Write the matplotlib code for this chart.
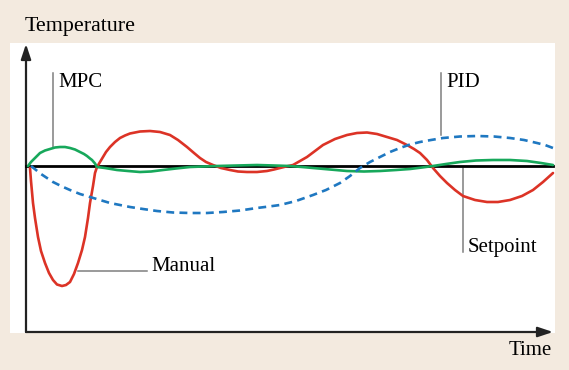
import matplotlib.pyplot as plt
import numpy as np

plt.rcParams['font.family'] = ['Liberation Serif', 'DejaVu Serif']

# time (arbitrary units) and temperature deviation from setpoint
manual_t = [4, 5, 7, 9, 12, 15, 19, 23, 27, 31, 36, 40, 44, 48, 52, 56, 59, 62, 64, 67, 69, 71,
            74, 77, 80, 84, 89, 94, 99, 104, 114, 124, 134, 144, 152, 161, 168, 174, 180, 187,
            195, 204, 212, 221, 231, 241, 248, 254, 260, 267, 274, 281, 289, 297, 309, 321,
            331, 341, 351, 361, 371, 381, 388, 394, 401, 407, 414, 421, 429, 437, 449, 461,
            472, 484, 496, 507, 517, 527]
manual_T = [-2, -15, -37, -52, -71, -85, -97, -107, -114, -118.5, -120, -119, -116, -108, -97,
            -84, -71, -52, -37, -20, -7, -1, 4, 9, 14, 19, 24, 28, 30.5, 32.5, 34.5, 35, 34,
            31, 26, 19, 13, 8, 4, 1, -2, -4, -5.5, -6, -6, -5, -3.5, -2, -0.5, 1, 5, 9, 15,
            21, 27, 31, 33, 33.5, 32, 29, 26, 21, 17, 13, 6, -2, -10, -17, -24, -30, -34,
            -36, -36, -34, -30, -24, -16, -7]

mpc_t = [2, 5, 9, 14, 19, 24, 29, 34, 39, 44, 49, 54, 58, 61, 64, 66, 69, 71, 75, 79, 85, 91,
         102, 114, 125, 137, 150, 164, 177, 191, 211, 231, 248, 264, 276, 287, 304, 321, 338,
         354, 370, 384, 396, 407, 420, 434, 450, 467, 484, 501, 515, 527]
mpc_T = [0, 4, 8, 13, 15.5, 17, 18.5, 19, 19, 18, 16.5, 14, 12, 10, 7.5, 6, 2.5, -1, -1.5, -2,
         -3, -4, -5, -6, -5.5, -4, -2.5, -1, -0.5, 0, 0.5, 1, 0.5, 0, -1, -2, -3.5, -5, -5.5,
         -5, -4, -3, -1.5, 0, 2, 4, 5.5, 6, 6, 5, 3, 1]

pid_t = [5, 15, 27, 35, 44, 54, 64, 74, 84, 94, 104, 117, 131, 147, 164, 181, 197, 214, 231,
         243, 254, 270, 287, 300, 314, 324, 334, 344, 354, 364, 374, 384, 394, 405, 417, 434,
         451, 468, 484, 498, 511, 519, 527]
pid_T = [0, -8, -16, -20, -24, -28, -31, -34, -37, -39, -41, -43, -45, -46.5, -47, -47, -46,
         -44.5, -42, -40.5, -39, -35, -29, -24, -17, -10, -2, 4, 9, 14, 18, 21.5, 24, 26, 28,
         29.5, 30, 29.5, 28, 26, 23, 21, 18]

bg = '#f3eadf'
fig = plt.figure(figsize=(5.69, 3.70), dpi=100, facecolor=bg)
ax = fig.add_axes([10/569, 37/370, 545/569, 290/370])
ax.set_facecolor('white')
for s in ax.spines.values():
    s.set_visible(False)
ax.set_xticks([])
ax.set_yticks([])
ax.set_xlim(-16, 529)
ax.set_ylim(-167, 123)

# axes with arrows
ap = dict(arrowstyle='-|>,head_length=0.9,head_width=0.3', lw=1.6, color='#222222',
          shrinkA=0, shrinkB=0)
ax.annotate('', xy=(527, -166), xytext=(0, -166), arrowprops=ap)
ax.annotate('', xy=(0, 122), xytext=(0, -166), arrowprops=ap)

# setpoint
ax.plot([0, 527], [0, 0], color='black', lw=2.0, zorder=3)

kw = dict(lw=1.9, zorder=4, solid_joinstyle='round', solid_capstyle='round')
ax.plot(manual_t, manual_T, color='#dc3326', **kw)
ax.plot(mpc_t, mpc_T, color='#17a85b', **kw)
ax.plot(pid_t, pid_T, color='#1f78c1', lw=1.9, dashes=(3, 2), zorder=4)

# leader lines and labels
lc = '#7f7f7f'
ax.plot([27, 27], [93, 19], color=lc, lw=1.1)
ax.text(32, 79, 'MPC', fontsize=15, va='baseline', ha='left')
ax.plot([415, 415], [93, 31], color=lc, lw=1.1)
ax.text(420, 79, 'PID', fontsize=15, va='baseline', ha='left')
ax.plot([437, 437], [-2, -86], color=lc, lw=1.1)
ax.text(442, -86, 'Setpoint', fontsize=15, va='baseline', ha='left')
ax.plot([52, 121], [-105, -105], color=lc, lw=1.1)
ax.text(125, -105, 'Manual', fontsize=15, va='baseline', ha='left')

fig.text(25/569, 1 - 31/370, 'Temperature', fontsize=15.8, va='baseline', ha='left')
fig.text(552/569, 1 - 355/370, 'Time', fontsize=15, va='baseline', ha='right')

fig.savefig('out.png', dpi=100, facecolor=bg)
